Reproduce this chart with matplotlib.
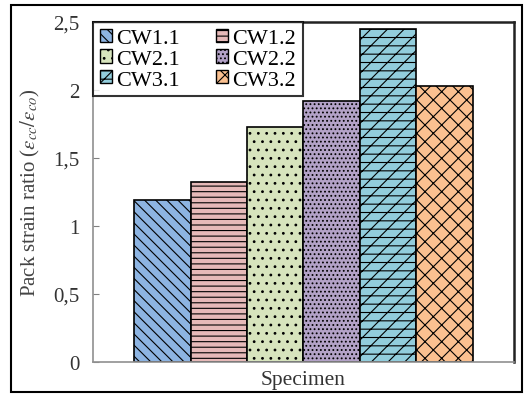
import matplotlib.pyplot as plt
from matplotlib.patches import Rectangle, Patch

plt.rcParams.update({'font.family': 'Liberation Serif', 'mathtext.fontset': 'stix',
                     'hatch.linewidth': 0.8})

specimens = ["CW1.1", "CW1.2", "CW2.1", "CW2.2", "CW3.1", "CW3.2"]
ratios = [1.19, 1.325, 1.73, 1.92, 2.45, 2.03]
colors = ["#8DB4E2", "#E6B9B8", "#D7E4BD", "#B3A2C7", "#92CDDC", "#FAC090"]
hatches = ["\\\\\\", "---", "..", "....", "//--", "xx"]

fig = plt.figure(figsize=(5.27, 4.02), dpi=100)
ax = fig.add_axes([0.1765, 0.097, 0.7988, 0.8458])

x = range(len(specimens))
bars = ax.bar(x, ratios, width=1.0, color=colors, edgecolor="black",
              linewidth=1.2, hatch=hatches)

ax.set_xlim(-1.23, 6.23)
ax.set_ylim(0, 2.5)
ax.set_yticks([0, 0.5, 1, 1.5, 2, 2.5])
ax.set_yticklabels(["0", "0,5", "1", "1,5", "2", "2,5"], fontsize=15, color="#333333")
ax.set_xticks([])
ax.tick_params(axis='y', direction='in', length=4, color="#808080", pad=10)

for s in ["left", "bottom"]:
    ax.spines[s].set_color("#909090")
    ax.spines[s].set_linewidth(1.2)
for s in ["top", "right"]:
    ax.spines[s].set_color("#222222")
    ax.spines[s].set_linewidth(1.8)

ax.set_xlabel("Specimen", fontsize=15.5, color="#333333", labelpad=6)
ax.set_ylabel(r"Pack strain ratio ($\varepsilon_{cc}/\varepsilon_{co}$)", fontsize=15,
              color="#444444", labelpad=8)

handles = [Patch(facecolor=c, edgecolor="black", hatch=h) for c, h in zip(colors, hatches)]
order = [0, 2, 4, 1, 3, 5]
leg = ax.legend([handles[i] for i in order], [specimens[i] for i in order], ncol=2,
                loc="upper left", bbox_to_anchor=(0, 1), borderaxespad=0,
                fontsize=16, frameon=True, fancybox=False, handlelength=0.55,
                handleheight=0.55, handletextpad=0.2, columnspacing=1.6,
                labelspacing=0.05, borderpad=0.3)
leg.get_frame().set_edgecolor("black")
leg.get_frame().set_linewidth(1.5)

fig.patches.append(Rectangle((11 / 527, 1 - 393 / 402), 511 / 527, 387 / 402,
                             transform=fig.transFigure, fill=False,
                             edgecolor="black", linewidth=1.5))

plt.savefig("out.png", dpi=100)
